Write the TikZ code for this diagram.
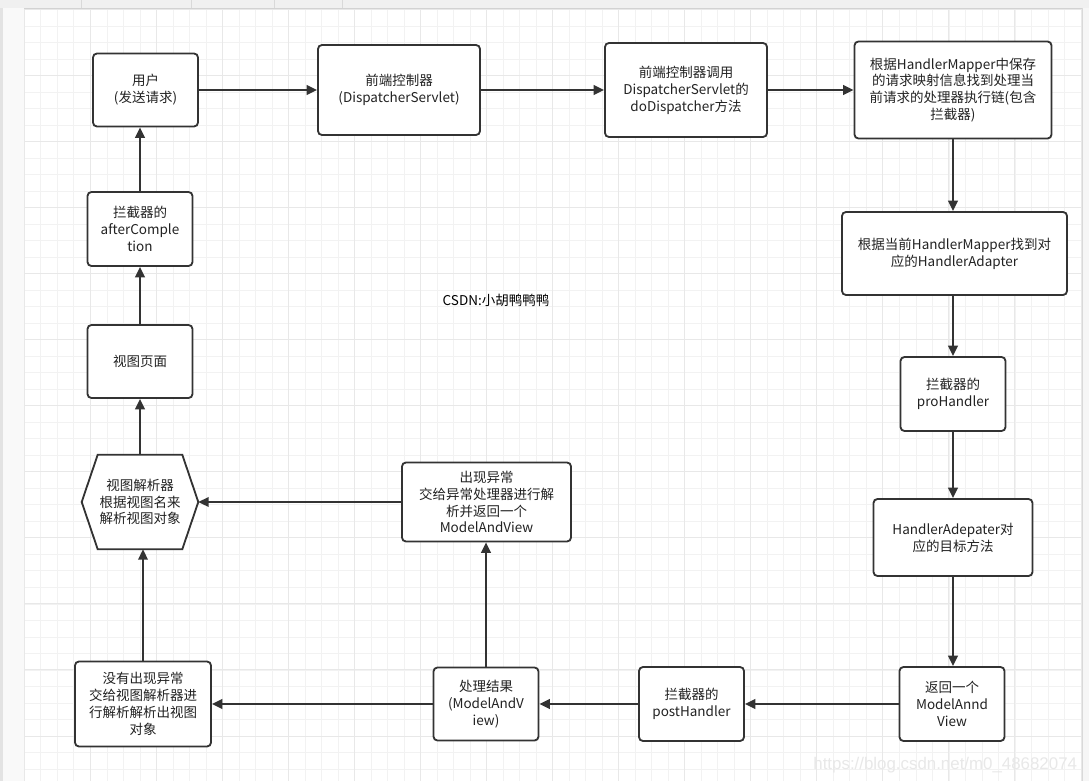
\documentclass[tikz,border=0pt]{standalone}
\usepackage{fontspec}
\newfontfamily\cjk{Noto Sans CJK SC}
\newfontfamily\wmfont{Liberation Sans}
\usetikzlibrary{arrows.meta}

\definecolor{lineclr}{HTML}{333333}
\definecolor{textclr}{HTML}{222222}

\begin{document}
\begin{tikzpicture}[
    x=0.025cm, y=-0.025cm,
    font=\cjk\fontsize{9.6}{12}\selectfont,
    box/.style={rectangle, draw=lineclr, line width=1.3pt, rounded corners=0.1cm,
                fill=white, align=center, inner sep=0pt, text=textclr},
    smallbox/.style={box, minimum width=2.625cm, minimum height=1.85cm},
    hexbox/.style={rectangle, minimum width=2.9cm, minimum height=2.35cm, inner sep=0pt},
    arr/.style={-{Triangle[length=0.26cm, width=0.24cm]}, line width=1.3pt, lineclr},
    minorgrid/.style={gray!10, line width=0.5pt},
    majorgrid/.style={gray!18, line width=0.6pt}
]
\useasboundingbox (0,0) rectangle (1089,781);

% ---- Page and grid ----
\fill[white] (0,0) rectangle (1089,781);
\foreach \gx in {0,...,64} {\draw[minorgrid] ({24.3+16.51*\gx},8) -- ({24.3+16.51*\gx},781);}
\foreach \gy in {0,...,46} {\draw[minorgrid] (24,{9.5+16.51*\gy}) -- (1082,{9.5+16.51*\gy});}
\foreach \gx in {0,4,...,64} {\draw[majorgrid] ({24.3+16.51*\gx},8) -- ({24.3+16.51*\gx},781);}
\foreach \gy in {0,4,...,44} {\draw[majorgrid] (24,{9.5+16.51*\gy}) -- (1082,{9.5+16.51*\gy});}

% ---- Editor frame ----
\fill[gray!12] (0,0) rectangle (1089,8);
\draw[gray!35] (0,8) -- (1089,8);
\foreach \sx in {81,191,274,342} {\draw[gray!30] (\sx,0) -- (\sx,8);}
\fill[gray!5] (0,8) rectangle (24,781);
\fill[gray!22] (0,8) rectangle (3,781);
\fill[gray!7] (1082,8) rectangle (1089,781);
\draw[gray!30] (1082,8) -- (1082,781);

% ---- Top row ----
\node[smallbox, minimum height=1.825cm] (user) at (145.5,90) {用户\\(发送请求)};
\node[box, minimum width=4.05cm, minimum height=2.25cm] (front) at (399,90) {前端控制器\\(DispatcherServlet)};
\node[box, minimum width=4.05cm, minimum height=2.35cm] (dodisp) at (686,90) {前端控制器调用\\DispatcherServlet的\\doDispatcher方法};
\node[box, minimum width=4.925cm, minimum height=2.425cm] (mapper) at (953,90)
    {根据HandlerMapper中保存\\的请求映射信息找到处理当\\前请求的处理器执行链(包含\\拦截器)};

% ---- Right column ----
\node[box, minimum width=5.625cm, minimum height=2.075cm] (adapter) at (954.5,253.5)
    {根据当前HandlerMapper找到对\\应的HandlerAdapter};
\node[smallbox] (prehandle) at (953,394) {拦截器的\\proHandler};
\node[box, minimum width=3.975cm, minimum height=1.925cm] (target) at (953,537.5) {HandlerAdepater对\\应的目标方法};
\node[smallbox] (retmav) at (952,704) {返回一个\\ModelAnnd\\View};

% ---- Bottom row ----
\node[smallbox] (posthandle) at (691.5,704) {拦截器的\\postHandler};
\node[smallbox, minimum height=1.825cm] (result) at (486,704) {处理结果\\(ModelAndV\\iew)};
\node[box, minimum width=3.4cm, minimum height=2.125cm] (noexc) at (143,704)
    {没有出现异常\\交给视图解析器进\\行解析解析出视图\\对象};
\node[box, minimum width=4.225cm, minimum height=1.975cm] (exc) at (486.5,502)
    {出现异常\\交给异常处理器进行解\\析并返回一个\\ModelAndView};

% ---- Left column ----
\node[hexbox] (hex) at (140,502) {};
\draw[line width=1.3pt, lineclr, fill=white] ([xshift=0.4cm]hex.north west) -- ([xshift=-0.4cm]hex.north east)
    -- (hex.east) -- ([xshift=-0.4cm]hex.south east) -- ([xshift=0.4cm]hex.south west) -- (hex.west) -- cycle;
\node[align=center, text=textclr] (hextxt) at (hex.center) {视图解析器\\根据视图名来\\解析视图对象};
\node[smallbox, minimum height=1.825cm] (viewpage) at (140,361.5) {视图页面};
\node[smallbox] (aftercomp) at (140,229) {拦截器的\\afterComple\\tion};

% ---- Connectors ----
\draw[arr] (user) -- (front);
\draw[arr] (front) -- (dodisp);
\draw[arr] (dodisp) -- (mapper);
\draw[arr] (mapper.south) -- (mapper.south |- adapter.north);
\draw[arr] (prehandle.north |- adapter.south) -- (prehandle.north);
\draw[arr] (prehandle) -- (target);
\draw[arr] (target.south) -- (target.south |- retmav.north);
\draw[arr] (retmav) -- (posthandle);
\draw[arr] (posthandle) -- (result);
\draw[arr] (result) -- (noexc);
\draw[arr] (result.north) -- (result.north |- exc.south);
\draw[arr] (exc.west) -- (hex.east);
\draw[arr] (noexc.north) -- (noexc.north |- hex.south);
\draw[arr] (hex.north) -- (viewpage.south);
\draw[arr] (viewpage) -- (aftercomp);
\draw[arr] (aftercomp.north) -- (aftercomp.north |- user.south);

% ---- Labels ----
\node[text=black] (author) at (496,300) {CSDN:小胡鸭鸭鸭};
\node[anchor=east, font=\wmfont\fontsize{12}{14}\selectfont, text=gray!18] (watermark) at (1082,765)
    {https://blog.csdn.net/m0\_48682074};

\end{tikzpicture}
\end{document}
